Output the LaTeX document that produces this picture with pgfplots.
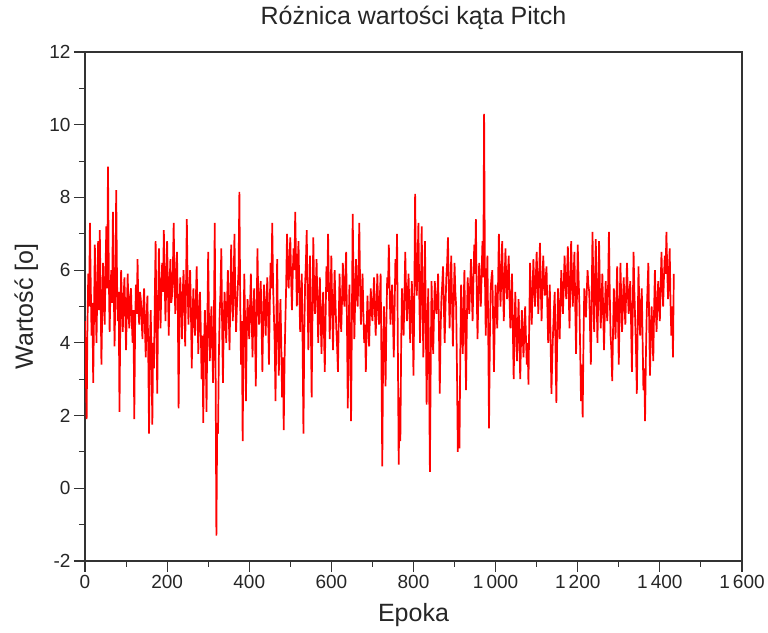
\documentclass[border=0pt]{standalone}
\usepackage{pgfplots}
\pgfplotsset{compat=1.18}
\usepackage{fontspec}
\setmainfont{Liberation Sans}
\begin{document}
\begin{tikzpicture}
\begin{axis}[
  at={(0,0)}, anchor=south west,
  scale only axis, width=657bp, height=509bp,
  xmin=0, xmax=1600, ymin=-2, ymax=12,
  xtick={0,200,...,1600},
  xticklabels={0,200,400,600,800,1\,000,1\,200,1\,400,1\,600},
  ytick={-2,0,...,12},
  minor x tick num=1, minor y tick num=1,
  tick align=outside,
  xtick pos=bottom, ytick pos=left,
  major tick length=11bp, minor tick length=6bp,
  every tick/.style={draw=black!80, line width=1.1bp},
  axis line style={draw=black!80, line width=1.1bp},
  /pgf/number format/assume math mode=true,
  ticklabel style={font=\fontsize{19bp}{21bp}\selectfont, text=black!85},
  title={Różnica wartości kąta Pitch},
  title style={at={(axis description cs:0.5,1.0413)}, anchor=base, font=\fontsize{25bp}{28bp}\selectfont, text=black!85, inner sep=0pt},
  xlabel={Epoka},
  xlabel style={at={(axis description cs:0.5,-0.1198)}, anchor=base, font=\fontsize{25bp}{28bp}\selectfont, text=black!85, inner sep=0pt},
  ylabel={Wartość [o]},
  ylabel style={at={(axis description cs:-0.0792,0.5)}, anchor=base, font=\fontsize{25bp}{28bp}\selectfont, text=black!85, inner sep=0pt},
]
\addplot[red, line width=1.7bp, line join=bevel, mark=none] coordinates {
(0,4.6)(2,3.2)(4,1.9)(6,4.5)(8,5.9)(10,5.0)(12,7.3)(14,5.6)(16,4.2)(18,5.1)
(20,2.9)(22,4.8)(24,6.7)(26,5.2)(28,4.0)(30,5.5)(32,6.8)(34,4.9)(36,7.1)(38,5.4)
(40,3.4)(42,4.9)(44,6.2)(46,5.3)(48,4.5)(50,6.0)(52,7.2)(54,5.5)(56,8.85)(58,5.9)
(60,4.3)(62,5.4)(64,6.0)(66,5.1)(68,7.6)(70,5.6)(72,3.9)(74,5.3)(76,8.2)(78,5.7)
(80,4.6)(82,5.4)(84,2.1)(86,4.6)(88,6.0)(90,5.0)(92,4.3)(94,5.2)(96,5.8)(98,4.9)
(100,3.8)(102,5.0)(104,5.9)(106,4.8)(108,4.4)(110,5.3)(112,5.5)(114,4.6)(116,4.0)(118,4.9)
(120,1.9)(122,4.4)(124,5.6)(126,4.8)(128,6.3)(130,5.0)(132,4.5)(134,5.4)(136,5.2)(138,4.6)
(140,4.1)(142,5.0)(144,5.5)(146,4.4)(148,3.6)(150,4.7)(152,5.3)(154,3.8)(156,1.5)(158,3.9)
(160,4.9)(162,3.6)(164,1.75)(166,4.0)(168,3.3)(170,5.2)(172,6.8)(174,4.5)(176,2.6)(178,4.9)
(180,6.6)(182,5.3)(184,4.4)(186,5.6)(188,6.2)(190,5.4)(192,7.1)(194,5.8)(196,4.6)(198,5.7)
(200,6.8)(202,5.5)(204,4.2)(206,5.6)(208,6.3)(210,5.1)(212,5.3)(214,6.0)(216,7.3)(218,5.6)
(220,4.8)(222,5.9)(224,6.5)(226,5.1)(228,2.2)(230,4.9)(232,5.8)(234,5.0)(236,4.1)(238,5.3)
(240,6.0)(242,5.1)(244,3.9)(246,5.5)(248,7.4)(250,5.6)(252,4.5)(254,5.4)(256,6.0)(258,4.9)
(260,3.3)(262,4.7)(264,5.5)(266,4.6)(268,4.2)(270,5.2)(272,6.1)(274,4.8)(276,3.7)(278,4.9)
(280,5.4)(282,4.4)(284,3.0)(286,4.2)(288,1.8)(290,3.9)(292,4.9)(294,3.8)(296,2.1)(298,4.5)
(300,6.5)(302,4.6)(304,3.5)(306,4.4)(308,5.0)(310,3.9)(312,2.9)(314,4.6)(316,7.3)(318,3.5)
(320,-1.3)(322,1.8)(324,1.5)(326,3.6)(328,4.8)(330,5.4)(332,6.6)(334,4.5)(336,2.9)(338,4.6)
(340,5.4)(342,4.7)(344,4.0)(346,5.1)(348,6.0)(350,4.9)(352,3.8)(354,5.2)(356,6.7)(358,5.4)
(360,4.6)(362,5.6)(364,7.0)(366,5.3)(368,4.3)(370,5.0)(372,5.5)(374,6.0)(376,8.15)(378,5.2)
(380,3.4)(382,4.6)(384,1.3)(386,4.2)(388,5.9)(390,4.5)(392,2.4)(394,4.4)(396,5.2)(398,4.6)
(400,4.1)(402,5.0)(404,5.9)(406,4.7)(408,3.6)(410,4.8)(412,5.5)(414,4.4)(416,2.8)(418,4.7)
(420,6.6)(422,5.2)(424,4.5)(426,5.3)(428,5.7)(430,4.6)(432,3.2)(434,4.7)(436,5.6)(438,4.9)
(440,4.2)(442,5.1)(444,5.8)(446,4.8)(448,3.4)(450,5.0)(452,6.2)(454,5.5)(456,7.3)(458,5.6)
(460,4.8)(462,4.0)(464,2.4)(466,4.5)(468,6.3)(470,4.4)(472,3.1)(474,4.3)(476,5.2)(478,4.0)
(480,2.5)(482,3.6)(484,1.6)(486,3.5)(488,4.6)(490,5.6)(492,7.0)(494,6.1)(496,5.5)(498,6.3)
(500,6.9)(502,5.8)(504,4.9)(506,5.9)(508,6.6)(510,6.0)(512,7.6)(514,6.2)(516,5.0)(518,6.1)
(520,6.8)(522,5.4)(524,4.3)(526,5.2)(528,5.9)(530,4.0)(532,1.5)(534,4.2)(536,5.6)(538,6.2)
(540,7.1)(542,5.3)(544,3.8)(546,5.2)(548,6.4)(550,4.6)(552,2.5)(554,4.8)(556,6.9)(558,5.5)
(560,4.8)(562,5.5)(564,6.3)(566,5.1)(568,4.0)(570,5.0)(572,5.8)(574,4.7)(576,3.7)(578,4.8)
(580,5.4)(582,4.3)(584,3.2)(586,4.7)(588,6.1)(590,5.4)(592,7.0)(594,5.5)(596,4.1)(598,5.2)
(600,6.4)(602,5.0)(604,3.8)(606,5.0)(608,6.0)(610,5.1)(612,4.4)(614,3.9)(616,3.2)(618,4.6)
(620,5.9)(622,4.9)(624,4.3)(626,5.2)(628,6.2)(630,5.3)(632,5.0)(634,5.8)(636,6.5)(638,4.6)
(640,2.2)(642,4.2)(644,5.6)(646,3.8)(648,1.85)(650,4.6)(652,7.55)(654,5.6)(656,4.1)(658,5.2)
(660,6.3)(662,5.4)(664,5.0)(666,5.9)(668,7.3)(670,5.6)(672,4.5)(674,5.3)(676,5.9)(678,4.8)
(680,4.0)(682,4.5)(684,3.2)(686,4.4)(688,5.3)(690,4.5)(692,3.9)(694,4.8)(696,5.5)(698,4.9)
(700,4.6)(702,5.2)(704,5.8)(706,4.9)(708,4.2)(710,5.0)(712,5.9)(714,5.0)(716,4.5)(718,5.2)
(720,5.9)(722,3.5)(724,0.6)(726,3.6)(728,5.0)(730,4.0)(732,2.8)(734,4.5)(736,5.8)(738,5.5)
(740,6.7)(742,5.4)(744,4.5)(746,5.2)(748,5.6)(750,4.7)(752,3.6)(754,4.9)(756,6.3)(758,5.6)
(760,7.0)(762,3.8)(764,0.65)(766,2.5)(768,1.3)(770,3.9)(772,5.5)(774,4.8)(776,4.2)(778,5.3)
(780,6.5)(782,5.4)(784,4.6)(786,5.3)(788,5.9)(790,4.9)(792,4.0)(794,5.0)(796,5.7)(798,4.6)
(800,3.1)(802,5.2)(804,8.1)(806,6.0)(808,5.3)(810,6.1)(812,7.3)(814,5.4)(816,4.0)(818,5.5)
(820,7.2)(822,5.2)(824,3.6)(826,5.3)(828,6.8)(830,4.7)(832,2.3)(834,4.3)(836,5.5)(838,3.2)
(840,0.45)(842,3.4)(844,5.7)(846,4.6)(848,3.7)(850,4.8)(852,5.7)(854,5.0)(856,4.8)(858,5.3)
(860,5.9)(862,4.4)(864,2.6)(866,4.3)(868,5.2)(870,5.6)(872,6.1)(874,5.0)(876,4.0)(878,5.0)
(880,5.8)(882,6.2)(884,6.9)(886,5.5)(888,4.4)(890,5.5)(892,6.4)(894,5.1)(896,3.9)(898,5.1)
(900,6.2)(902,5.4)(904,5.0)(906,3.2)(908,1.0)(910,2.4)(912,1.1)(914,3.7)(916,5.6)(918,4.6)
(920,3.7)(922,4.9)(924,6.0)(926,4.2)(928,2.7)(930,4.6)(932,5.8)(934,5.2)(936,4.8)(938,5.6)
(940,6.3)(942,5.4)(944,4.6)(946,5.7)(948,6.7)(950,5.9)(952,7.4)(954,5.4)(956,4.1)(958,5.3)
(960,6.2)(962,5.6)(964,5.0)(966,5.9)(968,6.8)(970,5.8)(972,10.3)(974,5.9)(976,4.2)(978,5.4)
(980,6.4)(982,4.4)(984,1.65)(986,4.1)(988,5.5)(990,5.8)(992,6.0)(994,4.6)(996,3.2)(998,4.6)
(1000,5.6)(1002,5.0)(1004,4.4)(1006,5.6)(1008,7.0)(1010,5.8)(1012,5.0)(1014,5.9)(1016,6.8)(1018,5.6)
(1020,4.6)(1022,5.7)(1024,6.6)(1026,5.7)(1028,5.2)(1030,5.9)(1032,6.4)(1034,5.2)(1036,4.4)(1038,5.1)
(1040,5.9)(1042,4.4)(1044,3.0)(1046,4.3)(1048,5.4)(1050,4.4)(1052,3.5)(1054,4.4)(1056,5.2)(1058,4.0)
(1060,3.0)(1062,4.1)(1064,4.9)(1066,4.2)(1068,3.6)(1070,4.4)(1072,5.0)(1074,4.1)(1076,3.4)(1078,4.0)
(1080,2.85)(1082,4.6)(1084,6.2)(1086,5.2)(1088,4.5)(1090,5.4)(1092,6.3)(1094,5.6)(1096,5.0)(1098,5.8)
(1100,6.5)(1102,5.6)(1104,4.8)(1106,5.8)(1108,6.75)(1110,5.6)(1112,4.6)(1114,5.5)(1116,6.4)(1118,5.7)
(1120,5.3)(1122,5.8)(1124,6.1)(1126,5.0)(1128,4.0)(1130,4.9)(1132,5.6)(1134,4.0)(1136,2.6)(1138,3.6)
(1140,4.3)(1142,4.9)(1144,5.4)(1146,3.8)(1148,2.35)(1150,4.1)(1152,5.5)(1154,4.8)(1156,4.1)(1158,5.1)
(1160,6.0)(1162,5.3)(1164,4.8)(1166,5.6)(1168,6.4)(1170,5.7)(1172,5.2)(1174,5.9)(1176,6.65)(1178,5.4)
(1180,4.4)(1182,5.6)(1184,6.8)(1186,5.8)(1188,5.0)(1190,5.8)(1192,6.5)(1194,5.0)(1196,3.7)(1198,5.2)
(1200,6.7)(1202,5.8)(1204,5.1)(1206,3.8)(1208,2.4)(1210,3.4)(1212,1.95)(1214,4.0)(1216,5.5)(1218,5.0)
(1220,4.7)(1222,5.4)(1224,6.0)(1226,5.6)(1228,5.4)(1230,4.4)(1232,3.4)(1234,5.2)(1236,7.05)(1238,5.6)
(1240,4.3)(1242,5.5)(1244,6.85)(1246,5.4)(1248,4.0)(1250,5.3)(1252,6.8)(1254,5.5)(1256,4.4)(1258,5.1)
(1260,5.9)(1262,4.9)(1264,3.8)(1266,4.8)(1268,5.7)(1270,5.0)(1272,4.6)(1274,5.6)(1276,7.05)(1278,5.4)
(1280,4.2)(1282,3.8)(1284,2.95)(1286,4.3)(1288,5.5)(1290,4.8)(1292,4.1)(1294,5.1)(1296,6.1)(1298,4.8)
(1300,3.4)(1302,4.8)(1304,6.2)(1306,5.2)(1308,4.3)(1310,5.1)(1312,5.8)(1314,5.0)(1316,4.5)(1318,5.4)
(1320,6.2)(1322,5.4)(1324,4.8)(1326,5.3)(1328,5.7)(1330,4.5)(1332,3.2)(1334,4.9)(1336,6.5)(1338,5.4)
(1340,4.6)(1342,3.8)(1344,2.6)(1346,4.4)(1348,6.1)(1350,5.0)(1352,4.2)(1354,4.9)(1356,5.5)(1358,4.1)
(1360,2.7)(1362,3.3)(1364,1.85)(1366,3.6)(1368,4.8)(1370,5.5)(1372,6.2)(1374,4.6)(1376,3.1)(1378,4.3)
(1380,5.0)(1382,4.2)(1384,3.5)(1386,4.9)(1388,6.0)(1390,5.0)(1392,4.3)(1394,5.1)(1396,5.7)(1398,5.0)
(1400,4.6)(1402,5.6)(1404,6.5)(1406,5.6)(1408,5.0)(1410,5.8)(1412,6.4)(1414,5.9)(1416,7.05)(1418,6.0)
(1420,5.2)(1422,5.9)(1424,6.6)(1426,5.1)(1428,4.2)(1430,5.0)(1432,3.6)(1434,5.9)
};
\end{axis}
\path[use as bounding box] (-85bp,-72bp) rectangle (683bp,561bp);
\end{tikzpicture}
\end{document}
